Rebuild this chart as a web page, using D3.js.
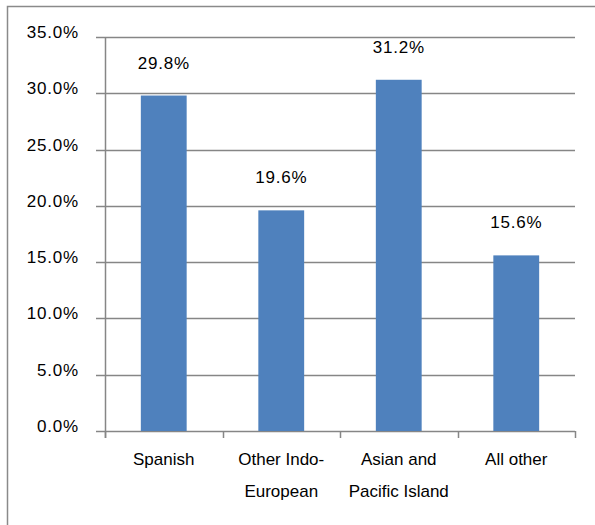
<!DOCTYPE html>
<html><head><meta charset="utf-8">
<script src="https://cdn.jsdelivr.net/npm/d3@7"></script>
<style>body{margin:0;background:#fff;}svg{display:block;}</style>
</head><body>
<svg id="c" width="595" height="525"></svg>
<script>
const categories = [["Spanish"], ["Other Indo-", "European"], ["Asian and", "Pacific Island"], ["All other"]];
const values = [29.8, 19.6, 31.2, 15.6];
const yTicks = [0, 5, 10, 15, 20, 25, 30, 35];

(function () {
const svg = d3.select("#c");
const font = "'Liberation Sans', Arial, sans-serif";
const fs = 17;
const mLeft = 105, mRight = 575, mTop = 37, mBottom = 431;

svg.append("rect").attr("x", 7.5).attr("y", 6.5).attr("width", 620).attr("height", 560)
  .attr("fill", "none").attr("stroke", "#8a8a8a").attr("stroke-width", 1.5);

const x = d3.scaleBand().domain(d3.range(values.length)).range([mLeft, mRight]).paddingInner(0.61).paddingOuter(0.305);
const xTick = d3.scaleBand().domain(d3.range(values.length)).range([mLeft, mRight]);
const y = d3.scaleLinear().domain([0, 35]).range([mBottom, mTop]);

// gridlines
svg.append("g").selectAll("line").data(yTicks).join("line")
  .attr("x1", mLeft - 9).attr("x2", mRight)
  .attr("y1", d => Math.round(y(d)) + 0.5).attr("y2", d => Math.round(y(d)) + 0.5)
  .attr("stroke", "#868686").attr("stroke-width", 1.5);

// y axis
svg.append("line").attr("x1", mLeft + 0.5).attr("x2", mLeft + 0.5).attr("y1", mTop).attr("y2", mBottom + 7)
  .attr("stroke", "#868686").attr("stroke-width", 1.5);

// x ticks
const xt = d3.range(values.length + 1).map(i => i < values.length ? xTick(i) : mRight);
svg.append("g").selectAll("line").data(xt).join("line")
  .attr("x1", d => Math.round(d) + 0.5).attr("x2", d => Math.round(d) + 0.5)
  .attr("y1", mBottom).attr("y2", mBottom + 7)
  .attr("stroke", "#868686").attr("stroke-width", 1.5);

// y labels
svg.append("g").selectAll("text").data(yTicks).join("text")
  .attr("x", 79).attr("y", d => y(d) + 1)
  .attr("text-anchor", "end").attr("font-family", font).attr("font-size", fs).attr("fill", "#000")
  .attr("letter-spacing", 0.8)
  .text(d => d.toFixed(1) + "%");

// bars
svg.append("g").selectAll("rect").data(values).join("rect")
  .attr("x", (d, i) => x(i)).attr("width", x.bandwidth())
  .attr("y", d => y(d)).attr("height", d => mBottom - y(d))
  .attr("fill", "#4F81BD");

// value labels
svg.append("g").selectAll("text").data(values).join("text")
  .attr("x", (d, i) => x(i) + x.bandwidth() / 2).attr("y", d => y(d) - 27)
  .attr("text-anchor", "middle").attr("font-family", font).attr("font-size", fs).attr("fill", "#000")
  .attr("letter-spacing", 0.8)
  .text(d => d.toFixed(1) + "%");

// category labels
const cg = svg.append("g").selectAll("text").data(categories).join("text")
  .attr("text-anchor", "middle").attr("font-family", font).attr("font-size", fs).attr("fill", "#000");
cg.each(function(lines, i) {
  d3.select(this).selectAll("tspan").data(lines).join("tspan")
    .attr("x", xTick(i) + xTick.bandwidth() / 2)
    .attr("y", (l, j) => 465 + j * 32)
    .text(l => l);
});
})();
</script>
</body></html>
